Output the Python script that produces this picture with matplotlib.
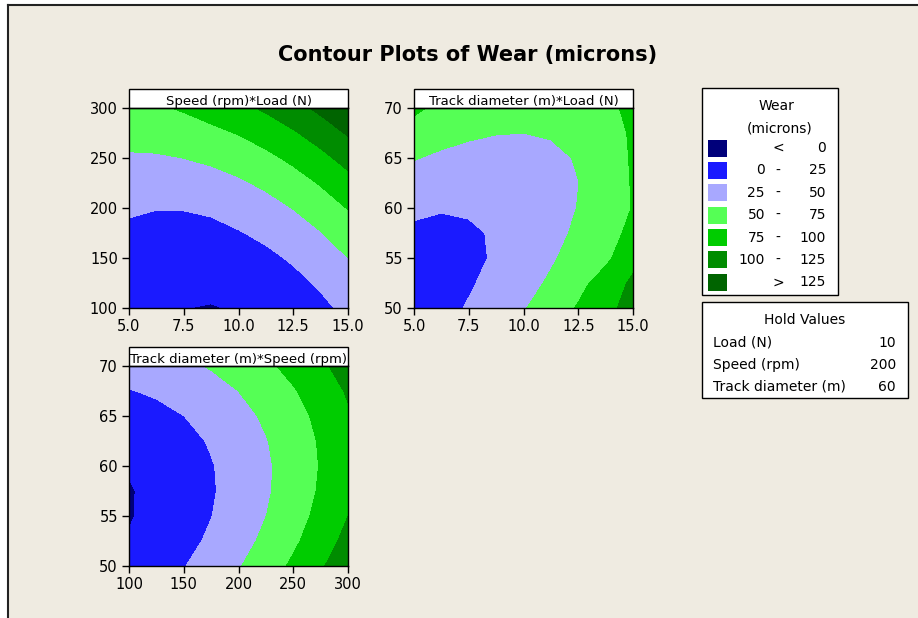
import matplotlib
matplotlib.use("Agg")
import matplotlib.pyplot as plt
from matplotlib.patches import Rectangle
from matplotlib.lines import Line2D

# grid positions of the three factors
load = [5, 6.25, 7.5, 8.75, 10, 11.25, 12.5, 13.75, 15]
speed = [100, 125, 150, 175, 200, 225, 250, 275, 300]
track = [50, 52.5, 55, 57.5, 60, 62.5, 65, 67.5, 70]

# wear, rows = y factor, cols = x factor
wear_speed_load = [
    [8.7, 3.5, 0.3, -1.0, 1.5, 5.36, 11.48, 19.86, 30.5],
    [11.25, 6.85, 4.71, 4.84, 7.23, 11.88, 18.79, 27.96, 39.4],
    [15.45, 11.84, 10.5, 11.42, 14.6, 20.04, 27.75, 37.72, 49.95],
    [21.3, 18.49, 17.94, 19.65, 23.63, 29.86, 38.36, 49.12, 62.15],
    [27.5, 25.6, 25.9, 28.0, 34.3, 41.33, 50.63, 62.18, 76.0],
    [37.95, 36.72, 37.76, 41.06, 46.63, 54.45, 64.54, 76.89, 91.5],
    [47.0, 47.5, 50.15, 54.24, 60.6, 69.22, 80.1, 93.24, 108.65],
    [59.0, 60.5, 63.5, 69.08, 76.23, 85.64, 97.31, 111.25, 127.45],
    [68.0, 72.0, 77.5, 85.56, 93.5, 103.7, 116.2, 130.9, 147.9],
]
wear_track_load = [
    [13.8, 19.03, 26.53, 36.28, 48.3, 62.58, 77.0, 94.0, 108.0],
    [13.8, 17.22, 22.9, 30.84, 41.05, 53.52, 68.25, 85.24, 104.5],
    [16.3, 17.9, 21.78, 26.5, 36.3, 46.96, 59.88, 70.0, 92.5],
    [21.3, 21.09, 23.15, 26.3, 34.05, 42.89, 54.0, 67.37, 80.0],
    [28.8, 26.0, 26.5, 29.53, 34.3, 41.33, 50.63, 62.18, 76.0],
    [38.8, 34.97, 33.4, 34.09, 37.05, 42.27, 49.75, 59.49, 77.0],
    [51.3, 45.66, 42.28, 41.16, 42.3, 45.71, 51.38, 59.3, 78.0],
    [66.3, 58.84, 53.65, 50.72, 50.05, 51.64, 55.5, 61.62, 79.0],
    [79.0, 70.0, 67.53, 62.78, 60.3, 60.08, 62.13, 68.0, 82.0],
]
wear_track_speed = [
    [6.5, 14.48, 24.1, 35.38, 48.3, 62.88, 79.1, 96.98, 116.5],
    [1.5, 8.91, 17.98, 28.69, 41.05, 55.06, 70.73, 88.04, 107.0],
    [-1.5, 5.85, 14.35, 24.5, 36.3, 49.75, 64.85, 81.6, 100.0],
    [-1.5, 5.29, 13.23, 22.81, 34.05, 46.94, 61.48, 77.66, 95.5],
    [1.5, 7.23, 14.6, 23.63, 34.3, 46.63, 60.6, 76.23, 93.5],
    [6.5, 11.66, 18.48, 26.94, 37.05, 48.81, 62.23, 77.29, 94.0],
    [14.0, 18.6, 24.85, 32.75, 42.3, 53.5, 66.35, 80.85, 97.0],
    [24.0, 28.04, 33.73, 41.06, 50.05, 60.69, 72.98, 86.91, 102.5],
    [36.5, 39.98, 45.1, 51.88, 60.3, 70.38, 82.1, 95.48, 110.5],
]

levels = [-1000, 0, 25, 50, 75, 100, 125, 1000]
colors = ["#00007A", "#1A1AFF", "#A8A8FF", "#55FF55", "#00CC00", "#008C00", "#006400"]
leg_lo = ["", "0", "25", "50", "75", "100", ""]
leg_mid = ["<", "-", "-", "-", "-", "-", ">"]
leg_hi = ["0", "25", "50", "75", "100", "125", "125"]

hold_names = ["Load (N)", "Speed (rpm)", "Track diameter (m)"]
hold_vals = ["10", "200", "60"]

W, H = 918, 618
BG = "#EFEBE1"


def fx(x):
    return x / W


def fy(y):
    return 1 - y / H


fig = plt.figure(figsize=(W / 100, H / 100), dpi=100, facecolor="white")
fig.add_artist(Rectangle((fx(8), 0), 1, fy(5), transform=fig.transFigure, fc=BG, ec="none", zorder=0))
fig.add_artist(Line2D([fx(8), fx(8)], [0, fy(5)], transform=fig.transFigure, color="#222222", lw=1.5))
fig.add_artist(Line2D([fx(8), 1], [fy(5), fy(5)], transform=fig.transFigure, color="#222222", lw=1.5))

fig.text(fx(468), fy(55), "Contour Plots of Wear (microns)", ha="center", va="center",
         fontsize=15, fontweight="bold")


def panel(left, top, x, y, z, title, xticks, yticks, xlabels):
    ax = fig.add_axes([fx(left), fy(top + 200), 219 / W, 200 / H])
    ax.contourf(x, y, z, levels=levels, colors=colors)
    ax.set_xlim(x[0], x[-1])
    ax.set_ylim(y[0], y[-1])
    ax.set_xticks(xticks)
    ax.set_xticklabels(xlabels)
    ax.set_yticks(yticks)
    ax.tick_params(direction="out", length=5, width=1, labelsize=10.5, pad=3)
    for s in ax.spines.values():
        s.set_linewidth(1)
    ax.add_patch(Rectangle((0, 1), 1, 19 / 200, transform=ax.transAxes, fc="white",
                           ec="black", lw=1, clip_on=False))
    ax.text(0.5, 1.0, title, transform=ax.transAxes, ha="center", va="bottom", fontsize=9.5)
    return ax


panel(129, 108, load, speed, wear_speed_load, "Speed (rpm)*Load (N)",
      [5, 7.5, 10, 12.5, 15], [100, 150, 200, 250, 300],
      ["5.0", "7.5", "10.0", "12.5", "15.0"])
panel(414, 108, load, track, wear_track_load, "Track diameter (m)*Load (N)",
      [5, 7.5, 10, 12.5, 15], [50, 55, 60, 65, 70],
      ["5.0", "7.5", "10.0", "12.5", "15.0"])
panel(129, 366, speed, track, wear_track_speed, "Track diameter (m)*Speed (rpm)",
      [100, 150, 200, 250, 300], [50, 55, 60, 65, 70],
      ["100", "150", "200", "250", "300"])

# legend box
fig.add_artist(Rectangle((fx(702), fy(295)), 136 / W, 207 / H, transform=fig.transFigure,
                         fc="white", ec="black", lw=1))
fig.text(fx(776), fy(106), "Wear", ha="center", va="center", fontsize=10)
fig.text(fx(780), fy(129), "(microns)", ha="center", va="center", fontsize=10)
for i in range(len(colors)):
    yc = 148 + i * 22.4
    fig.add_artist(Rectangle((fx(708), fy(yc + 8.5)), 19 / W, 17 / H, transform=fig.transFigure,
                             fc=colors[i], ec="none"))
    fig.text(fx(765), fy(yc), leg_lo[i], ha="right", va="center", fontsize=10)
    fig.text(fx(778), fy(yc), leg_mid[i], ha="center", va="center", fontsize=10)
    fig.text(fx(826), fy(yc), leg_hi[i], ha="right", va="center", fontsize=10)

# hold values box
fig.add_artist(Rectangle((fx(702), fy(398)), 206 / W, 96 / H, transform=fig.transFigure,
                         fc="white", ec="black", lw=1))
fig.text(fx(805), fy(320), "Hold Values", ha="center", va="center", fontsize=10)
for i in range(len(hold_names)):
    yc = 343 + i * 22
    fig.text(fx(713), fy(yc), hold_names[i], ha="left", va="center", fontsize=10)
    fig.text(fx(896), fy(yc), hold_vals[i], ha="right", va="center", fontsize=10)

fig.savefig("out.png", dpi=100, facecolor=fig.get_facecolor())
